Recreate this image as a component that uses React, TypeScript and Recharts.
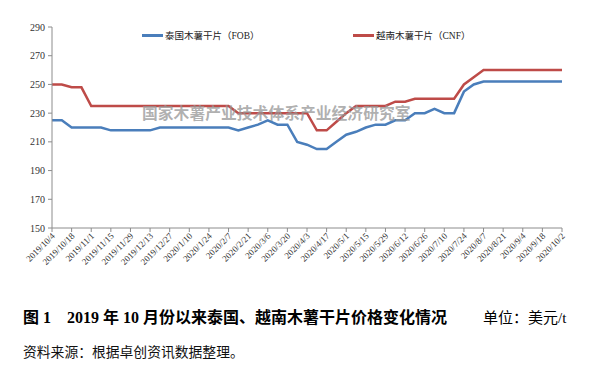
import React from "react";
import { LineChart, Line, XAxis, YAxis, CartesianGrid } from "recharts";

// weekly quotes, USD/t
const dates = [
  "2019/10/4", "2019/10/11", "2019/10/18", "2019/10/25", "2019/11/1", "2019/11/8",
  "2019/11/15", "2019/11/22", "2019/11/29", "2019/12/6", "2019/12/13", "2019/12/20",
  "2019/12/27", "2020/1/3", "2020/1/10", "2020/1/17", "2020/1/24", "2020/1/31",
  "2020/2/7", "2020/2/14", "2020/2/21", "2020/2/28", "2020/3/6", "2020/3/13",
  "2020/3/20", "2020/3/27", "2020/4/3", "2020/4/10", "2020/4/17", "2020/4/24",
  "2020/5/1", "2020/5/8", "2020/5/15", "2020/5/22", "2020/5/29", "2020/6/5",
  "2020/6/12", "2020/6/19", "2020/6/26", "2020/7/3", "2020/7/10", "2020/7/17",
  "2020/7/24", "2020/7/31", "2020/8/7", "2020/8/14", "2020/8/21", "2020/8/28",
  "2020/9/4", "2020/9/11", "2020/9/18", "2020/9/25", "2020/10/2",
];

const thaiFob = [
  225, 225, 220, 220, 220, 220, 218, 218, 218, 218, 218, 220, 220, 220, 220, 220, 220, 220,
  220, 218, 220, 222, 225, 222, 222, 210, 208, 205, 205, 210, 215, 217, 220, 222, 222, 225,
  225, 230, 230, 233, 230, 230, 245, 250, 252, 252, 252, 252, 252, 252, 252, 252, 252,
];

const vietCnf = [
  250, 250, 248, 248, 235, 235, 235, 235, 235, 235, 235, 235, 235, 235, 235, 235, 235, 235,
  235, 230, 230, 230, 230, 230, 230, 230, 230, 218, 218, 224, 230, 235, 235, 235, 235, 238,
  238, 240, 240, 240, 240, 240, 250, 255, 260, 260, 260, 260, 260, 260, 260, 260, 260,
];

const yTicks = [150, 170, 190, 210, 230, 250, 270, 290];

const data = dates.map((d, i) => ({ date: d, thai: thaiFob[i], viet: vietCnf[i] }));

const SERIF = "'Liberation Serif', 'Noto Sans CJK SC', serif";
const BLUE = "#4a7ebb";
const RED = "#be4b48";
const AXIS = "#8c8c8c";

const XTick = (props: any) => {
  const { x, y, payload } = props;
  return (
    <g transform={`translate(${x},${y})`}>
      <text
        x={0}
        y={0}
        dy={5}
        textAnchor="end"
        transform="rotate(-45)"
        fontSize={9}
        fill="#333"
        fontFamily={SERIF}
      >
        {payload.value}
      </text>
    </g>
  );
};

export default function App() {
  return (
    <div
      style={{
        position: "absolute",
        left: 0,
        top: 0,
        width: 592,
        height: 367,
        background: "#fff",
        fontFamily: SERIF,
      }}
    >
      <LineChart
        width={592}
        height={290}
        data={data}
        margin={{ top: 27, right: 30, left: 0, bottom: 0 }}
      >
        <CartesianGrid vertical={false} horizontal={false} />
        <XAxis
          dataKey="date"
          interval={1}
          height={62}
          tickSize={4}
          tickMargin={1}
          stroke={AXIS}
          tick={<XTick />}
        />
        <YAxis
          domain={[150, 290]}
          ticks={yTicks}
          width={52}
          tickSize={4}
          tickMargin={3}
          stroke={AXIS}
          tick={{ fill: "#333", fontSize: 10, fontFamily: SERIF }}
        />
        <Line
          dataKey="thai"
          stroke={BLUE}
          strokeWidth={2.5}
          dot={false}
          isAnimationActive={false}
        />
        <Line
          dataKey="viet"
          stroke={RED}
          strokeWidth={2.5}
          dot={false}
          isAnimationActive={false}
        />
      </LineChart>

      {/* legend */}
      <div style={{ position: "absolute", left: 142, top: 28, display: "flex", alignItems: "center", fontSize: 9.5, color: "#222" }}>
        <span style={{ display: "inline-block", width: 21, height: 3, background: BLUE, marginRight: 2 }} />
        <span>泰国木薯干片（FOB）</span>
      </div>
      <div style={{ position: "absolute", left: 353, top: 28, display: "flex", alignItems: "center", fontSize: 9.5, color: "#222" }}>
        <span style={{ display: "inline-block", width: 21, height: 3, background: RED, marginRight: 2 }} />
        <span>越南木薯干片（CNF）</span>
      </div>

      {/* watermark */}
      <div
        style={{
          position: "absolute",
          left: 142,
          top: 104,
          fontSize: 15.8,
          lineHeight: "18px",
          fontWeight: 700,
          color: "rgba(150,150,150,0.75)",
          fontFamily: "'Noto Sans CJK SC', sans-serif",
          whiteSpace: "nowrap",
        }}
      >
        国家木薯产业技术体系产业经济研究室
      </div>

      {/* caption */}
      <div
        style={{
          position: "absolute",
          left: 23,
          top: 308,
          fontSize: 16,
          lineHeight: "20px",
          fontWeight: 700,
          color: "#000",
          whiteSpace: "pre",
        }}
      >
        {"图 1    2019 年 10 月份以来泰国、越南木薯干片价格变化情况"}
      </div>
      <div
        style={{
          position: "absolute",
          left: 483,
          top: 308,
          fontSize: 15,
          lineHeight: "20px",
          color: "#000",
          whiteSpace: "pre",
        }}
      >
        单位：美元/t
      </div>
      <div
        style={{
          position: "absolute",
          left: 23,
          top: 344,
          fontSize: 13.8,
          lineHeight: "18px",
          color: "#111",
          whiteSpace: "pre",
        }}
      >
        资料来源：根据卓创资讯数据整理。
      </div>
    </div>
  );
}
